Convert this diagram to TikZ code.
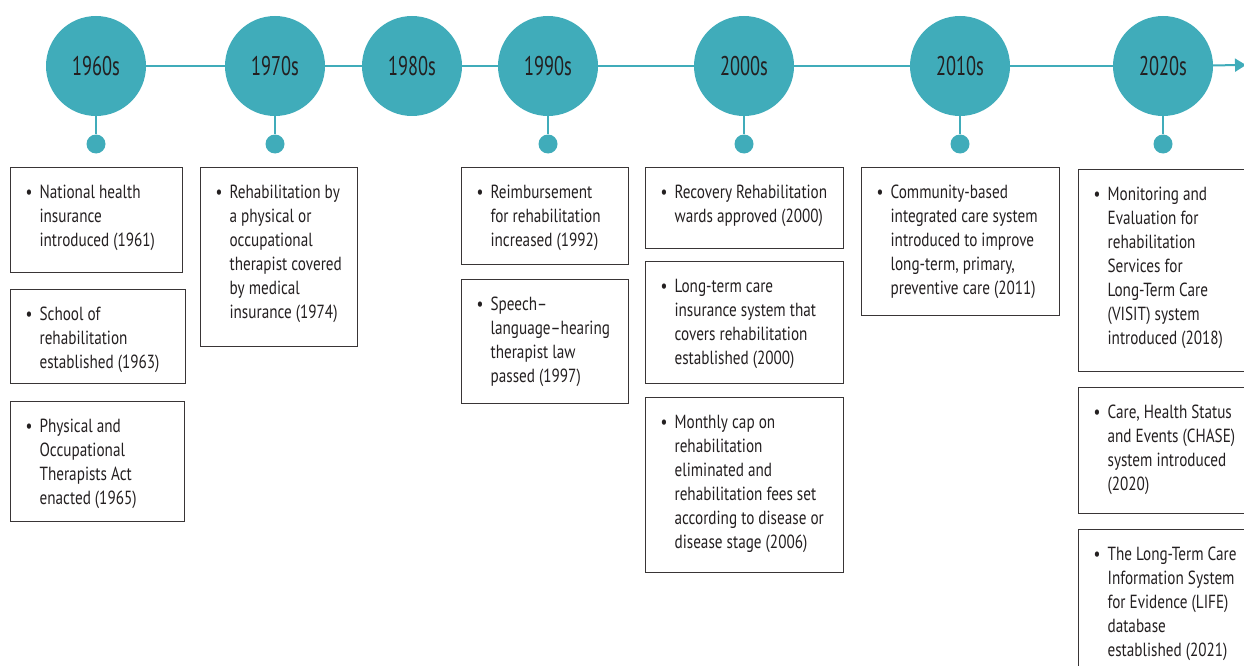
\documentclass[tikz,border=0pt]{standalone}
\usepackage{fontspec}
\setmainfont{PT Sans}[FakeStretch=0.8]
\newfontfamily\yearfont{PT Sans}[FakeStretch=0.68]
\usepackage{xcolor}
\usepackage{tikz}
\usetikzlibrary{arrows.meta, positioning}

\definecolor{tealc}{RGB}{64,172,186}
\definecolor{inkc}{RGB}{35,31,32}

% text of one event box: width, height, lines
\newcommand{\evtext}[3]{%
  \parbox[t][#2][t]{#1}{\raggedright\leftskip=29pt\relax
    \fontsize{19pt}{24pt}\selectfont
    \noindent\llap{\textbullet\hspace{7pt}}\rule{0pt}{31pt}#3}}

\begin{document}
\begin{tikzpicture}[x=1pt,y=-1pt,
  year/.style={circle,fill=tealc,minimum size=100pt,inner sep=0pt,
    text=inkc,font=\yearfont\fontsize{27pt}{30pt}\selectfont},
  dot/.style={circle,fill=tealc,minimum size=19pt,inner sep=0pt},
  tline/.style={draw=tealc,line width=2pt},
  event/.style={draw=inkc!90,line width=1.2pt,anchor=north west,
    inner sep=0pt,text=inkc}]

  \clip (0,0) rectangle (1244,666);

  % decades
  \node[year] (c60) at (96,66) {1960s};
  \node[year] (c70) at (275,66) {1970s};
  \node[year] (c80) at (412,66) {1980s};
  \node[year] (c90) at (548,66) {1990s};
  \node[year] (c00) at (744,66) {2000s};
  \node[year] (c10) at (960,66) {2010s};
  \node[year] (c20) at (1163,66) {2020s};
  \coordinate (tip) at (1246,65);

  \draw[tline] (c60) -- (c70);
  \draw[tline] (c70) -- (c80);
  \draw[tline] (c80) -- (c90);
  \draw[tline] (c90) -- (c00);
  \draw[tline] (c00) -- (c10);
  \draw[tline] (c10) -- (c20);
  \draw[tline,-{Triangle[length=11pt,width=13pt]}] (c20) -- (tip);

  % dots under the decades
  \foreach \n/\x in {60/96,70/275,90/548,00/744,10/960,20/1163} {
    \node[dot] (d\n) at (\x,144) {};
    \draw[tline] (c\n) -- (d\n);
  }

  % 1960s
  \node[event] (a1) at (10,167) {\evtext{172pt}{105pt}{National health\\insurance\\introduced (1961)}};
  \node[event] (a2) at (10,289) {\evtext{175pt}{94pt}{School of\\rehabilitation\\established (1963)}};
  \node[event] (a3) at (10,401) {\evtext{174pt}{120pt}{Physical and\\Occupational\\Therapists Act\\enacted (1965)}};
  % 1970s
  \node[event] (b1) at (200,167) {\evtext{157pt}{179pt}{Rehabilitation by\\a physical or\\occupational\\therapist covered\\by medical\\insurance (1974)}};
  % 1990s
  \node[event] (d1) at (461,167) {\evtext{167pt}{97pt}{Reimbursement\\for rehabilitation\\increased (1992)}};
  \node[event] (d2) at (461,279) {\evtext{167pt}{124pt}{Speech--\\language--hearing\\therapist law\\passed (1997)}};
  % 2000s
  \node[event] (e1) at (645,167) {\evtext{198pt}{81pt}{Recovery Rehabilitation\\wards approved (2000)}};
  \node[event] (e2) at (645,261) {\evtext{198pt}{122pt}{Long-term care\\insurance system that\\covers rehabilitation\\established (2000)}};
  \node[event] (e3) at (645,397) {\evtext{198pt}{175pt}{Monthly cap on\\rehabilitation\\eliminated and\\rehabilitation fees set\\according to disease or\\disease stage (2006)}};
  % 2010s
  \node[event] (f1) at (861,167) {\evtext{198pt}{148pt}{Community-based\\integrated care system\\introduced to improve\\long-term, primary,\\preventive care (2011)}};
  % 2020s
  \node[event] (g1) at (1078,169) {\evtext{180pt}{202pt}{Monitoring and\\Evaluation for\\rehabilitation\\Services for\\Long-Term Care\\(VISIT) system\\introduced (2018)}};
  \node[event] (g2) at (1078,387) {\evtext{180pt}{126pt}{Care, Health Status\\and Events (CHASE)\\system introduced\\(2020)}};
  \node[event] (g3) at (1078,529) {\evtext{180pt}{150pt}{The Long-Term Care\\Information System\\for Evidence (LIFE)\\database\\established (2021)}};
\end{tikzpicture}
\end{document}
